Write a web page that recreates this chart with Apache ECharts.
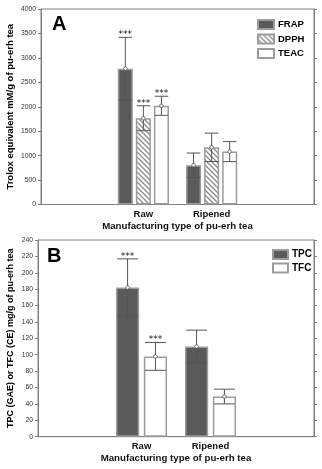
<!DOCTYPE html>
<html><head><meta charset="utf-8">
<script src="https://cdn.jsdelivr.net/npm/echarts@6/dist/echarts.min.js"></script>
<style>html,body{margin:0;padding:0;background:#fff}#c{width:322px;height:469px}</style>
</head><body><div id="c"></div>
<script>
// ---- data ----
const categories = ['Raw', 'Ripened'];
// Panel A (Trolox equivalent mM/g)
const frapMean = [2780, 803];
const frapErr  = [640, 250];
const dpphMean = [1765, 1170];
const dpphErr  = [255, 290];
const teacMean = [2020, 1082];
const teacErr  = [195, 205];
const starsA   = ['***', ''];
const ticksA = {min: 0, max: 4000, interval: 500};
// Panel B (mg/g)
const tpcMean = [182, 110];
const tpcErr  = [35, 20];
const tfcMean = [98, 49];
const tfcErr  = [17, 9];
const starsB  = ['***', ''];
const ticksB = {min: 0, max: 240, interval: 20};

const axisCats = [''].concat(categories, [' ']);
const pad = arr => ['-'].concat(arr, ['-']);

// hatch pattern
const hc = document.createElement('canvas');
hc.width = 5; hc.height = 5;
const hx = hc.getContext('2d');
hx.fillStyle = '#fff'; hx.fillRect(0,0,5,5);
hx.strokeStyle = '#8a8a8a'; hx.lineWidth = 1.3;
hx.beginPath(); hx.moveTo(-1,-1); hx.lineTo(6,6); hx.moveTo(-1,4); hx.lineTo(1,6); hx.moveTo(4,-1); hx.lineTo(6,1); hx.stroke();

const FONT = 'Liberation Sans';
const frame = '#808080';
const barBorder = '#9c9c9c';

function errSeries(xi, yi, pos, nBars, catGap, barGap, means, errs, stars) {
  return {
    type: 'custom', xAxisIndex: xi, yAxisIndex: yi, z: 10, silent: true,
    data: means.map((m, i) => [i + 1, m, errs[i]]),
    renderItem(params, api) {
      const band = api.size([1, 0])[0];
      const group = band * (1 - catGap);
      const w = group / (nBars + (nBars - 1) * barGap);
      const off = -group / 2 + w / 2 + pos * w * (1 + barGap);
      const c = api.coord([api.value(0), api.value(1)]);
      const x = c[0] + off;
      const top = api.coord([api.value(0), api.value(1) + api.value(2)])[1];
      const bot = api.coord([api.value(0), api.value(1) - api.value(2)])[1];
      const half = w * 0.45;
      const ls = {stroke: '#555', lineWidth: 1};
      const ch = [
        {type: 'line', shape: {x1: x, y1: top, x2: x, y2: bot}, style: ls},
        {type: 'line', shape: {x1: x - half, y1: top, x2: x + half, y2: top}, style: ls},
        {type: 'line', shape: {x1: x - half, y1: bot, x2: x + half, y2: bot}, style: ls},
        {type: 'circle', shape: {cx: x, cy: c[1], r: 1.8}, style: {fill: '#fff', stroke: '#555', lineWidth: 0.8}}
      ];
      const s = stars[params.dataIndex];
      if (s) ch.push({type: 'text', style: {text: s, x: x, y: top + 2, align: 'center', verticalAlign: 'bottom', font: '9px DejaVu Sans', fill: '#111'}});
      return {type: 'group', children: ch};
    }
  };
}

function xAxes(gi, nameGap) {
  return [{
    type: 'category', gridIndex: gi, data: axisCats, position: 'bottom',
    axisLine: {lineStyle: {color: frame}},
    axisTick: {alignWithLabel: true, length: 3, lineStyle: {color: frame}},
    axisLabel: {margin: 5, fontSize: 9.5, fontWeight: 'bold', fontFamily: FONT, color: '#111'},
    name: 'Manufacturing type of pu-erh tea', nameLocation: 'middle', nameGap: nameGap, nameMoveOverlap: false,
    nameTextStyle: {fontSize: 9.7, fontWeight: 'bold', fontFamily: FONT, color: '#111'}
  }, {
    type: 'category', gridIndex: gi, data: axisCats, position: 'top',
    axisLine: {lineStyle: {color: frame}},
    axisTick: {alignWithLabel: true, length: 3, lineStyle: {color: frame}},
    axisLabel: {show: false}
  }];
}
function yAxes(gi, t, name, nameGap, nameSize) {
  return [{
    type: 'value', gridIndex: gi, position: 'left', min: t.min, max: t.max, interval: t.interval,
    axisLine: {show: true, lineStyle: {color: frame}},
    axisTick: {show: true, length: 3, lineStyle: {color: frame}},
    splitLine: {show: false},
    axisLabel: {margin: 5, fontSize: 6.8, fontFamily: FONT, color: '#333', formatter: v => String(v)},
    name: name, nameLocation: 'middle', nameGap: nameGap, nameMoveOverlap: false,
    nameTextStyle: {fontSize: nameSize, fontWeight: 'bold', fontFamily: FONT, color: '#000'}
  }, {
    type: 'value', gridIndex: gi, position: 'right', min: t.min, max: t.max, interval: t.interval,
    axisLine: {show: true, lineStyle: {color: frame}},
    axisTick: {show: true, length: 3, lineStyle: {color: frame}},
    splitLine: {show: false}, axisLabel: {show: false}
  }];
}

const gapA = 0.25, bgA = 0.2, gapB = 0.26, bgB = 0.2;
const darkStyle = {color: '#5a5a5a', borderColor: barBorder, borderWidth: 1.5};
const whiteStyle = {color: '#ffffff', borderColor: barBorder, borderWidth: 1.5};
const hatchStyle = {color: {image: hc, repeat: 'repeat'}, borderColor: barBorder, borderWidth: 1.5};

const option = {
  animation: false,
  backgroundColor: '#fff',
  title: [
    {text: 'A', left: 52, top: 14, padding: 0, textStyle: {fontSize: 20, fontWeight: 'bold', fontFamily: FONT, color: '#000'}},
    {text: 'B', left: 47, top: 246, padding: 0, textStyle: {fontSize: 20, fontWeight: 'bold', fontFamily: FONT, color: '#000'}}
  ],
  legend: [
    {data: ['FRAP', 'DPPH', 'TEAC'], left: 257, top: 19, orient: 'vertical', padding: 0,
     itemWidth: 16, itemHeight: 9, itemGap: 3.5, icon: 'rect',
     textStyle: {fontSize: 9.5, fontWeight: 'bold', fontFamily: FONT, color: '#000', lineHeight: 10, padding: [0, 0, 0, -1]}},
    {data: ['TPC', 'TFC'], left: 272, top: 249, orient: 'vertical', padding: 0,
     itemWidth: 15, itemHeight: 9, itemGap: 2.5, icon: 'rect',
     textStyle: {fontSize: 10, fontWeight: 'bold', fontFamily: FONT, color: '#000', lineHeight: 10, padding: [0, 0, 0, -1]}}
  ],
  grid: [
    {left: 41, right: 8, top: 9, height: 195.5, show: true, borderColor: frame, borderWidth: 1, backgroundColor: 'transparent', containLabel: false, outerBoundsMode: 'none'},
    {left: 38, right: 8, top: 240, height: 196.7, show: true, borderColor: frame, borderWidth: 1, backgroundColor: 'transparent', containLabel: false, outerBoundsMode: 'none'}
  ],
  xAxis: xAxes(0, 17).concat(xAxes(1, 17)),
  yAxis: yAxes(0, ticksA, 'Trolox equivalent mM/g of pu-erh tea', 25.5, 9.5)
    .concat(yAxes(1, ticksB, 'TPC (GAE) or TFC (CE) mg/g of pu-erh tea', 22.5, 9)),
  series: [
    {name: 'FRAP', type: 'bar', xAxisIndex: 0, yAxisIndex: 0, data: pad(frapMean), barCategoryGap: (gapA * 100) + '%', barGap: (bgA * 100) + '%', itemStyle: darkStyle},
    {name: 'DPPH', type: 'bar', xAxisIndex: 0, yAxisIndex: 0, data: pad(dpphMean), itemStyle: hatchStyle},
    {name: 'TEAC', type: 'bar', xAxisIndex: 0, yAxisIndex: 0, data: pad(teacMean), itemStyle: whiteStyle},
    errSeries(0, 0, 0, 3, gapA, bgA, frapMean, frapErr, starsA),
    errSeries(0, 0, 1, 3, gapA, bgA, dpphMean, dpphErr, starsA),
    errSeries(0, 0, 2, 3, gapA, bgA, teacMean, teacErr, starsA),
    {name: 'TPC', type: 'bar', xAxisIndex: 2, yAxisIndex: 2, data: pad(tpcMean), barCategoryGap: (gapB * 100) + '%', barGap: (bgB * 100) + '%', itemStyle: darkStyle},
    {name: 'TFC', type: 'bar', xAxisIndex: 2, yAxisIndex: 2, data: pad(tfcMean), itemStyle: whiteStyle},
    errSeries(2, 2, 0, 2, gapB, bgB, tpcMean, tpcErr, starsB),
    errSeries(2, 2, 1, 2, gapB, bgB, tfcMean, tfcErr, starsB)
  ]
};
const chart = echarts.init(document.getElementById('c'), null, {renderer: 'canvas'});
chart.setOption(option);
</script>
</body></html>
